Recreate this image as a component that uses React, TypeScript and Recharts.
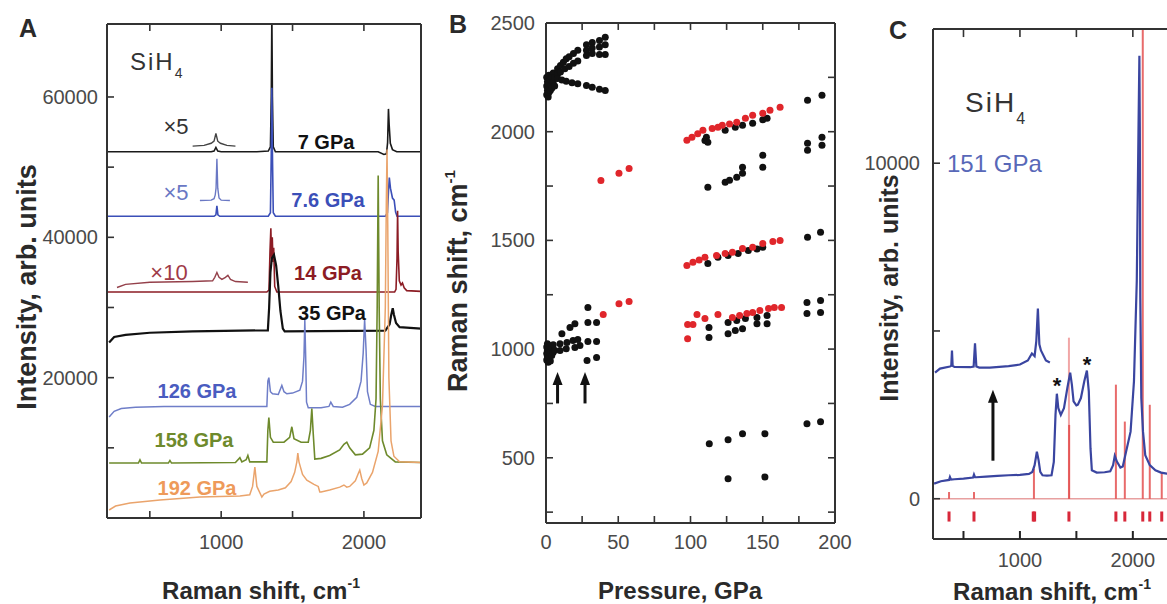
import React from "react";
import {
  LineChart,
  Line,
  XAxis,
  YAxis,
  ScatterChart,
  Scatter,
  ComposedChart,
  ReferenceLine,
  ReferenceDot,
} from "recharts";

const FONT = "'Liberation Sans', Arial, Helvetica, sans-serif";

// ---------- Panel A: stacked Raman spectra ----------
const a7X = [200, 930, 950, 963, 976, 1000, 1250, 1330, 1345, 1351, 1355, 1359, 1365, 1380, 2100, 2140, 2158, 2166, 2172, 2177, 2185, 2200, 2230, 2400];
const a7Y = [52200, 52200, 52300, 52800, 52300, 52200, 52200, 52300, 52900, 60000, 72000, 60000, 52900, 52200, 52200, 51800, 51900, 53500, 58300, 56000, 53400, 52500, 52200, 52200];
const a7InsetX = [800, 880, 930, 950, 963, 976, 995, 1040, 1100];
const a7InsetY = [53000, 53100, 53400, 53700, 54800, 53700, 53400, 53100, 53000];

const a76X = [200, 950, 963, 970, 977, 990, 1330, 1345, 1351, 1355, 1359, 1365, 1380, 2150, 2165, 2172, 2178, 2186, 2200, 2212, 2222, 2232, 2400];
const a76Y = [43000, 43000, 43200, 44500, 43200, 43000, 43000, 43500, 52000, 61300, 52000, 43500, 43000, 43000, 43500, 46500, 48500, 47000, 45600, 45300, 43600, 43000, 43000];
const a76InsetX = [851, 930, 950, 958, 964, 970, 976, 985, 1000, 1061];
const a76InsetY = [45250, 45300, 45500, 46000, 47000, 51200, 47000, 45600, 45300, 45250];

const a14X = [200, 1320, 1335, 1342, 1348, 1353, 1358, 1363, 1368, 1375, 1390, 2215, 2225, 2232, 2236, 2240, 2248, 2260, 2270, 2282, 2300, 2400];
const a14Y = [32200, 32200, 32500, 38000, 41300, 37000, 40000, 36500, 38500, 33000, 32200, 32200, 32600, 37000, 43800, 38000, 33800, 33200, 33500, 32800, 32400, 32300];
const a14InsetX = [270, 330, 500, 800, 940, 955, 970, 985, 1005, 1030, 1047, 1065, 1100, 1187];
const a14InsetY = [32850, 33300, 33600, 33700, 33800, 34300, 35000, 34300, 34000, 34300, 34600, 34000, 33700, 33600];

const a35X = [215, 250, 330, 500, 800, 1327, 1336, 1345, 1355, 1370, 1385, 1400, 1415, 1432, 1445, 2150, 2180, 2192, 2202, 2210, 2225, 2250, 2400];
const a35Y = [25000, 25800, 26100, 26400, 26600, 26750, 30000, 35000, 37000, 37500, 36000, 33000, 29500, 27000, 26600, 26700, 27600, 29000, 29900, 29000, 27800, 27200, 27000];

const a126X = [215, 250, 300, 400, 600, 1320, 1327, 1334, 1345, 1360, 1400, 1425, 1440, 1460, 1500, 1551, 1570, 1580, 1586, 1592, 1598, 1610, 1700, 1755, 1768, 1785, 1850, 1900, 1950, 1980, 1995, 2005, 2015, 2025, 2045, 2080, 2400];
const a126Y = [14400, 15200, 15600, 15800, 15900, 15900, 19500, 20000, 18000, 17700, 17600, 18900, 18000, 17700, 17800, 18200, 19500, 23000, 28200, 23000, 16500, 15700, 15700, 15900, 16500, 15900, 15800, 16200, 17200, 19500, 23500, 28300, 24000, 18000, 16200, 15900, 15900];

const a158X = [215, 420, 431, 442, 630, 641, 652, 1100, 1131, 1145, 1175, 1187, 1200, 1320, 1327, 1334, 1345, 1365, 1440, 1480, 1495, 1510, 1560, 1610, 1625, 1635, 1645, 1656, 1700, 1760, 1830, 1860, 1880, 1900, 1940, 1990, 2040, 2070, 2085, 2093, 2100, 2107, 2115, 2130, 2160, 2220, 2400];
const a158Y = [7830, 7830, 8300, 7830, 7830, 8200, 7830, 7900, 8600, 8000, 8300, 8900, 8000, 8000, 12500, 14300, 11500, 10800, 10800, 11500, 13000, 11300, 10800, 10800, 12500, 15600, 12000, 8400, 8500, 8900, 9700, 10500, 10800, 10000, 9000, 9100, 10000, 12500, 17000, 30000, 48800, 30000, 17000, 11000, 9000, 8000, 7900];

const a192X = [215, 260, 361, 571, 851, 1131, 1200, 1220, 1236, 1250, 1285, 1300, 1340, 1400, 1450, 1490, 1515, 1530, 1537, 1545, 1570, 1600, 1650, 1680, 1691, 1700, 1760, 1831, 1860, 1880, 1900, 1940, 1960, 1971, 1985, 2000, 2020, 2060, 2100, 2130, 2150, 2157, 2162, 2167, 2175, 2190, 2210, 2250, 2400];
const a192Y = [1140, 1700, 2130, 2560, 2990, 3130, 3300, 4500, 7260, 4500, 2990, 3400, 3800, 4000, 4300, 5200, 6500, 8000, 9250, 8000, 6200, 5400, 4800, 4500, 3700, 3700, 4000, 4400, 4700, 4400, 4500, 5300, 6300, 6830, 5600, 4700, 5000, 6500, 9500, 16000, 30000, 45000, 52500, 42000, 20000, 11000, 8800, 8000, 7900];

const aXTicks = [500, 1000, 1500, 2000];
const aXLabels = [1000, 2000];
const aYTicks = [10000, 20000, 30000, 40000, 50000, 60000];
const aYLabels = [20000, 40000, 60000];

// ---------- Panel B: mode frequencies vs pressure ----------
const bBlackP = [
  0.5, 0.5, 0.5, 1, 1, 1.5, 1.5, 2, 2, 2, 2.5, 3, 3, 3.5, 4, 4, 5, 5, 6, 6,
  8, 10, 12, 14, 16, 19, 22, 28, 32, 37, 41,
  8, 10, 13, 16, 19, 22, 28, 32, 37, 41,
  28, 32, 37, 41,
  8, 11, 14, 18, 22, 28, 32, 37, 41,
  110, 111, 112, 124, 131, 136, 143, 150, 153,
  181, 191, 181, 181, 191, 191,
  112, 124, 127, 132, 136, 136, 150, 150,
  112, 119, 126, 133, 140, 146, 150,
  181, 190,
  0.5, 0.5, 0.5, 1, 1, 1, 1.5, 1.5, 2, 2, 2.5, 3, 3, 3.5, 4, 4, 5, 5, 6,
  9.7, 14.5, 18.7, 22, 9.7, 14, 20, 23.5, 11, 16.6, 20,
  29, 29, 35, 29, 35, 28.4, 35,
  112.8, 112.8, 126, 131, 136, 126, 132, 138, 146, 146, 153, 153,
  180.6, 190, 180.6, 190,
  113, 126, 136, 151.5, 126, 151.5, 180.6, 190,
];
const bBlackR = [
  2170, 2210, 2250, 2190, 2230, 2160, 2200, 2180, 2220, 2260, 2200, 2240, 2190, 2215, 2250, 2200, 2230, 2270, 2210, 2250,
  2290, 2305, 2320, 2335, 2345, 2360, 2375, 2400, 2410, 2420, 2435,
  2265, 2275, 2290, 2300, 2315, 2325, 2375, 2385, 2390, 2400,
  2350, 2360, 2355, 2355,
  2245, 2238, 2232, 2225, 2220, 2212, 2205, 2195, 2190,
  1960, 1975, 1952, 2007, 2021, 2030, 2039, 2055, 2062,
  2145, 2168, 1947, 1915, 1975, 1938,
  1745, 1768, 1777, 1791, 1809, 1837, 1892, 1837,
  1394, 1422, 1431, 1440, 1454, 1460, 1468,
  1514, 1537,
  950, 980, 1010, 965, 995, 1025, 940, 975, 1000, 960, 985, 1015, 945, 990, 970, 1005, 985, 1020, 995,
  1025, 1030, 1039, 1044, 993, 1002, 1007, 1016, 1071, 1099, 1117,
  1191, 1122, 1122, 1035, 1035, 947, 961,
  1099, 1053, 1071, 1085, 1094, 1122, 1131, 1141, 1145, 1117, 1117, 1154,
  1214, 1223, 1164, 1168,
  565, 583, 611, 611, 403, 412, 657, 666,
];
const bRedP = [
  38, 50.5, 57.5,
  97.5, 101, 105, 108.6, 115, 119, 122, 127, 132, 138, 143, 150, 155, 162,
  97.5, 101.7, 106, 110, 118, 124, 129, 136, 143, 150, 157, 162,
  39.6, 50.5, 57.5,
  98, 98, 101.7, 104.5, 110, 119, 129, 134, 139, 143, 148, 154, 158, 163,
];
const bRedR = [
  1776, 1809, 1831,
  1961, 1975, 1990, 2007, 2015, 2021, 2030, 2035, 2044, 2062, 2076, 2085, 2099, 2113,
  1385, 1399, 1410, 1422, 1431, 1440, 1445, 1463, 1468, 1486, 1495, 1500,
  1159, 1209, 1219,
  1048, 1113, 1113, 1159, 1141, 1159, 1145, 1155, 1164, 1168, 1177, 1187, 1191, 1191,
];
const bArrowP = [8, 27];
const bArrowTail = 750;
const bArrowTip = 895;

const bXTicks = [0, 25, 50, 75, 100, 125, 150, 175, 200];
const bXLabels = [0, 50, 100, 150, 200];
const bXMinor = [25, 50, 75, 100, 125, 150, 175];
const bYTicks = [250, 500, 750, 1000, 1250, 1500, 1750, 2000, 2250];
const bYLabels = [500, 1000, 1500, 2000, 2500];

// ---------- Panel C: 151 GPa spectrum with calculated modes ----------
const cLowX = [240, 300, 372, 380, 390, 420, 500, 585, 593, 602, 612, 700, 800, 900, 1000, 1080, 1110, 1130, 1150, 1165, 1180, 1200, 1239, 1280, 1300, 1315, 1327, 1340, 1362, 1390, 1420, 1445, 1460, 1475, 1500, 1513, 1540, 1570, 1593, 1610, 1625, 1637, 1680, 1750, 1800, 1825, 1840, 1860, 1890, 1911, 1940, 1980, 2010, 2035, 2050, 2058, 2062, 2066, 2075, 2090, 2110, 2150, 2200, 2250, 2300, 2400];
const cLowY = [450, 520, 560, 650, 570, 580, 600, 630, 720, 640, 640, 660, 680, 700, 710, 740, 800, 1000, 1400, 1150, 800, 700, 690, 700, 1100, 2500, 3130, 2700, 2500, 2700, 3300, 3760, 3400, 2900, 2780, 2800, 3000, 3500, 3820, 3200, 1500, 850, 780, 790, 820, 1000, 1280, 1100, 930, 960, 1400, 2000, 3500, 6500, 11000, 13200, 11000, 6000, 3000, 2000, 1300, 1000, 850, 780, 750, 740];
const cUpX = [248, 292, 380, 392, 398, 404, 420, 560, 590, 602, 614, 640, 734, 900, 1000, 1070, 1106, 1130, 1145, 1159, 1172, 1186, 1230, 1265];
const cUpY = [3760, 3880, 3940, 3960, 4420, 3960, 3930, 3920, 3940, 4630, 3940, 3910, 3910, 3950, 4000, 4120, 4330, 4250, 4700, 5670, 4600, 4420, 4120, 4060];
const cModeX = [372, 593, 1124, 1434, 1436, 1850, 1929, 2088, 2150, 2256];
const cModeH = [200, 200, 900, 4800, 2200, 3400, 2300, 14000, 2800, 800];
const cModeTickX = [372, 593, 1118, 1130, 1434, 1850, 1929, 2088, 2150, 2256];
const cArrowX = 761;
const cArrowTail = 1134;
const cArrowTip = 3250;

const cXTicks = [500, 1000, 1500, 2000];
const cXLabels = [1000, 2000];
const cYTicks = [0, 5000, 10000];
const cYLabels = [0, 10000];

const pts = (xs: number[], ys: number[]) => xs.map((x, i) => ({ x, y: ys[i] }));
const scatterPts = (ps: number[], rs: number[]) => ps.map((p, i) => ({ p, r: rs[i] }));

const INK = "#333";
const frame = { stroke: INK, strokeWidth: 2 };
const tickLineStyle = { stroke: INK, strokeWidth: 1.6 };
const tickText = { fontSize: 20, fill: "#4a4a4a", fontFamily: FONT };
const noLabel = () => <g />;

// bottom axis: ticks point inward, only some of them carry a label
const bottomTick = (labels: number[]) => (props: any) => {
  const { x, y, payload } = props;
  if (!labels.includes(payload.value)) return <g />;
  return (
    <text x={x} y={y} dy="0.71em" textAnchor="middle" fontSize={20} fill="#4a4a4a" fontFamily={FONT}>
      {payload.value}
    </text>
  );
};

const spectraA = [
  { key: "a7", data: pts(a7X, a7Y), color: "#1a1a1a", w: 1.6 },
  { key: "a7i", data: pts(a7InsetX, a7InsetY), color: "#444", w: 1.4 },
  { key: "a76", data: pts(a76X, a76Y), color: "#3b4fb8", w: 1.6 },
  { key: "a76i", data: pts(a76InsetX, a76InsetY), color: "#6a78c4", w: 1.4 },
  { key: "a14", data: pts(a14X, a14Y), color: "#8c1c24", w: 1.6 },
  { key: "a14i", data: pts(a14InsetX, a14InsetY), color: "#94404a", w: 1.4 },
  { key: "a35", data: pts(a35X, a35Y), color: "#111", w: 2.2 },
  { key: "a126", data: pts(a126X, a126Y), color: "#6f7ec8", w: 1.5 },
  { key: "a158", data: pts(a158X, a158Y), color: "#6e8a2c", w: 1.6 },
  { key: "a192", data: pts(a192X, a192Y), color: "#eaa46c", w: 1.5 },
];

const ArrowHead = (props: any) => {
  const { cx, cy } = props;
  if (cx == null || cy == null) return <g />;
  return <path d={`M${cx},${cy} L${cx - 5},${cy + 13} L${cx + 5},${cy + 13} Z`} fill="#111" />;
};

const Dot = (color: string) => (props: any) => {
  const { cx, cy } = props;
  if (cx == null || cy == null) return <g />;
  return <circle cx={cx} cy={cy} r={3.5} fill={color} />;
};

// top-edge inward ticks, drawn as short segments hanging from the upper domain limit
const topTicks = (xs: number[], top: number, len: number) =>
  xs.map((x) => (
    <ReferenceLine key={`top${x}`} segment={[{ x, y: top }, { x, y: top - len }]} stroke={INK}
      strokeWidth={1.6} ifOverflow="hidden" />
  ));

function PanelA() {
  return (
    <div style={{ position: "absolute", left: 0, top: 0 }}>
      <LineChart width={430} height={604} margin={{ top: 24, right: 9, bottom: 46, left: 7 }}>
        <XAxis type="number" dataKey="x" domain={[200, 2400]} ticks={aXTicks} allowDataOverflow
          height={40} tickSize={-7} tickMargin={24} tickLine={tickLineStyle} axisLine={frame}
          tick={bottomTick(aXLabels)} />
        <XAxis xAxisId="top" orientation="top" type="number" domain={[200, 2400]} mirror allowDataOverflow
          tick={false} tickLine={false} axisLine={frame} />
        <YAxis type="number" domain={[0, 70400]} ticks={aYLabels} allowDataOverflow width={100}
          tickSize={0} tickMargin={9} tickLine={false} axisLine={frame} tick={tickText} />
        <YAxis yAxisId="lt" type="number" domain={[0, 70400]} ticks={aYTicks} mirror allowDataOverflow
          tickSize={7} tick={noLabel} axisLine={false} tickLine={tickLineStyle} />
        <YAxis yAxisId="r" orientation="right" type="number" domain={[0, 70400]} mirror allowDataOverflow
          tick={false} tickLine={false} axisLine={frame} />
        {topTicks(aXTicks, 70400, 1000)}
        {spectraA.map((s) => (
          <Line key={s.key} data={s.data} dataKey="y" type="linear" stroke={s.color} strokeWidth={s.w}
            dot={false} activeDot={false} isAnimationActive={false} />
        ))}
      </LineChart>
    </div>
  );
}

function PanelB() {
  return (
    <div style={{ position: "absolute", left: 430, top: 0 }}>
      <ScatterChart width={445} height={604} margin={{ top: 23, right: 40, bottom: 41, left: 16 }}>
        <XAxis type="number" dataKey="p" domain={[0, 200]} ticks={bXTicks} height={40}
          tickSize={-7} tickMargin={19} tickLine={tickLineStyle} axisLine={frame} tick={bottomTick(bXLabels)} />
        <XAxis xAxisId="top" orientation="top" type="number" domain={[0, 200]} mirror allowDataOverflow
          tick={false} tickLine={false} axisLine={frame} />
        <YAxis type="number" dataKey="r" domain={[200, 2500]} ticks={bYLabels} width={100}
          tickSize={0} tickMargin={11} tickLine={false} axisLine={frame} tick={tickText} />
        <YAxis yAxisId="lt" type="number" domain={[200, 2500]} ticks={bYTicks} mirror allowDataOverflow tickSize={7}
          tick={noLabel} axisLine={false} tickLine={tickLineStyle} />
        <YAxis yAxisId="r" orientation="right" type="number" domain={[200, 2500]} ticks={bYTicks} mirror
          allowDataOverflow tickSize={7} tick={noLabel} axisLine={frame} tickLine={tickLineStyle} />
        {topTicks(bXMinor, 2500, 32)}
        <Scatter data={scatterPts(bBlackP, bBlackR)} shape={Dot("#111")} isAnimationActive={false} />
        <Scatter data={scatterPts(bRedP, bRedR)} shape={Dot("#e0262b")} isAnimationActive={false} />
        {bArrowP.map((p) => (
          <ReferenceLine key={`s${p}`} segment={[{ x: p, y: bArrowTail }, { x: p, y: bArrowTip - 40 }]}
            stroke="#111" strokeWidth={3} />
        ))}
        {bArrowP.map((p) => (
          <ReferenceDot key={`h${p}`} x={p} y={bArrowTip} shape={ArrowHead} />
        ))}
      </ScatterChart>
    </div>
  );
}

function PanelC() {
  return (
    <div style={{ position: "absolute", left: 850, top: 0 }}>
      <ComposedChart width={350} height={604} margin={{ top: 29, right: 22, bottom: 25, left: 7 }}>
        <XAxis type="number" dataKey="x" domain={[230, 2400]} ticks={cXTicks} allowDataOverflow height={40}
          tickSize={-8} tickMargin={22} tickLine={{ stroke: "#222", strokeWidth: 2 }} axisLine={frame}
          tick={bottomTick(cXLabels)} />
        <XAxis xAxisId="top" orientation="top" type="number" domain={[230, 2400]} mirror allowDataOverflow
          tick={false} tickLine={false} axisLine={frame} />
        <YAxis type="number" domain={[-1200, 14000]} ticks={cYLabels} allowDataOverflow width={76}
          tickSize={0} tickMargin={13} tickLine={false} axisLine={frame} tick={tickText} />
        <YAxis yAxisId="lt" type="number" domain={[-1200, 14000]} ticks={cYTicks} mirror allowDataOverflow
          tickSize={7} tick={noLabel} axisLine={false} tickLine={tickLineStyle} />
        {topTicks(cXTicks, 14000, 240)}
        <ReferenceLine y={0} stroke="#e8a0a0" strokeWidth={1.5} />
        {cModeX.map((x, i) => (
          <ReferenceLine key={`m${i}`} segment={[{ x, y: 0 }, { x, y: cModeH[i] }]} stroke="#e03a3a"
            strokeOpacity={i === 3 ? 0.45 : 0.75} strokeWidth={2} ifOverflow="hidden" />
        ))}
        {cModeTickX.map((x, i) => (
          <ReferenceLine key={`t${i}`} segment={[{ x, y: -380 }, { x, y: -680 }]} stroke="#d8283a"
            strokeWidth={3} />
        ))}
        <Line data={pts(cLowX, cLowY)} dataKey="y" type="linear" stroke="#3a45a0" strokeWidth={2.2}
          dot={false} activeDot={false} isAnimationActive={false} />
        <Line data={pts(cUpX, cUpY)} dataKey="y" type="linear" stroke="#3a45a0" strokeWidth={2.2}
          dot={false} activeDot={false} isAnimationActive={false} />
        <ReferenceLine segment={[{ x: cArrowX, y: cArrowTail }, { x: cArrowX, y: cArrowTip - 250 }]}
          stroke="#111" strokeWidth={3} />
        <ReferenceDot x={cArrowX} y={cArrowTip} shape={ArrowHead} />
      </ComposedChart>
    </div>
  );
}

function Overlay() {
  const dark = "#2a2a2a";
  return (
    <svg width={1167} height={604} style={{ position: "absolute", left: 0, top: 0, pointerEvents: "none" }}
      fontFamily={FONT}>
      <text x={28} y={37} textAnchor="middle" fontSize={25} fontWeight="bold" fill={dark}>A</text>
      <text x={458} y={33} textAnchor="middle" fontSize={25} fontWeight="bold" fill={dark}>B</text>
      <text x={898} y={39} textAnchor="middle" fontSize={25} fontWeight="bold" fill={dark}>C</text>

      <text x={130} y={70} fontSize={24} fill="#333" letterSpacing={2}>SiH<tspan dy={8} fontSize={14}>4</tspan></text>
      <text x={176} y={134} textAnchor="middle" fontSize={22} fill="#333">×5</text>
      <text x={326} y={149} textAnchor="middle" fontSize={20} fontWeight="bold" fill="#111">7 GPa</text>
      <text x={176} y={200} textAnchor="middle" fontSize={22} fill="#6a78c4">×5</text>
      <text x={328} y={207} textAnchor="middle" fontSize={20} fontWeight="bold" fill="#3b4fb8">7.6 GPa</text>
      <text x={169} y={280} textAnchor="middle" fontSize={22} fill="#a03a48">×10</text>
      <text x={328} y={280} textAnchor="middle" fontSize={20} fontWeight="bold" fill="#8c1c24">14 GPa</text>
      <text x={332} y={320} textAnchor="middle" fontSize={20} fontWeight="bold" fill="#111">35 GPa</text>
      <text x={197} y={398} textAnchor="middle" fontSize={20} fontWeight="bold" fill="#4a5cc0">126 GPa</text>
      <text x={194} y={447} textAnchor="middle" fontSize={20} fontWeight="bold" fill="#6e8a2c">158 GPa</text>
      <text x={197} y={495} textAnchor="middle" fontSize={20} fontWeight="bold" fill="#ee9a5a">192 GPa</text>

      <text x={965} y={112} fontSize={28} fill="#333" letterSpacing={2}>SiH<tspan dy={12} fontSize={16}>4</tspan></text>
      <text x={947} y={172} fontSize={24} fill="#5868b8">151 GPa</text>
      <text x={1057} y={393} textAnchor="middle" fontSize={22} fontWeight="bold" fill="#111">*</text>
      <text x={1087} y={372} textAnchor="middle" fontSize={22} fontWeight="bold" fill="#111">*</text>

      <text transform="translate(36,287) rotate(-90)" textAnchor="middle" fontSize={27} fontWeight="bold" fill={dark}>
        Intensity, arb. units
      </text>
      <text x={261} y={599} textAnchor="middle" fontSize={24} fontWeight="bold" fill={dark}>
        Raman shift, cm<tspan dy={-11} fontSize={14}>-1</tspan>
      </text>
      <text transform="translate(467,281) rotate(-90)" textAnchor="middle" fontSize={27} fontWeight="bold" fill={dark}>
        Raman shift, cm<tspan dy={-12} fontSize={15}>-1</tspan>
      </text>
      <text x={680} y={599} textAnchor="middle" fontSize={24} fontWeight="bold" fill={dark}>Pressure, GPa</text>
      <text transform="translate(898,288) rotate(-90)" textAnchor="middle" fontSize={25} fontWeight="bold" fill={dark}>
        Intensity, arb. units
      </text>
      <text x={1052} y={600} textAnchor="middle" fontSize={24} fontWeight="bold" fill={dark}>
        Raman shift, cm<tspan dy={-11} fontSize={14}>-1</tspan>
      </text>
    </svg>
  );
}

export default function App() {
  return (
    <div style={{ position: "absolute", left: 0, top: 0, width: 1167, height: 604, overflow: "hidden",
      background: "#fff", fontFamily: FONT }}>
      <PanelA />
      <PanelB />
      <PanelC />
      <Overlay />
    </div>
  );
}
